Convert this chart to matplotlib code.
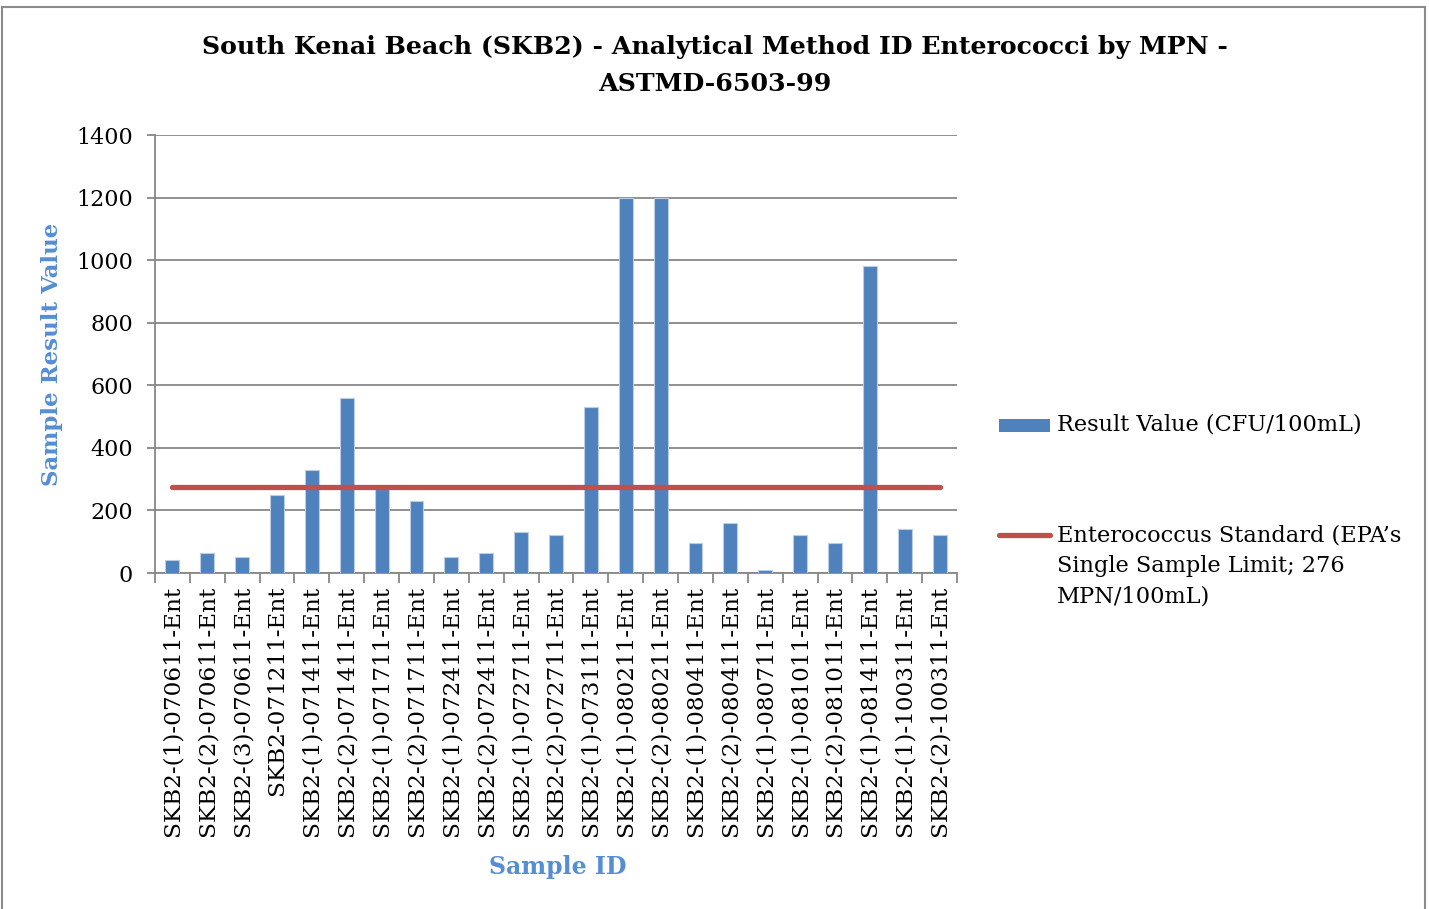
import matplotlib
matplotlib.use("Agg")
import matplotlib.pyplot as plt
from matplotlib.lines import Line2D
from matplotlib.patches import Rectangle

plt.rcParams['font.family'] = ['DejaVu Serif']

sample_ids = [
    "SKB2-(1)-070611-Ent", "SKB2-(2)-070611-Ent", "SKB2-(3)-070611-Ent",
    "SKB2-071211-Ent", "SKB2-(1)-071411-Ent", "SKB2-(2)-071411-Ent",
    "SKB2-(1)-071711-Ent", "SKB2-(2)-071711-Ent", "SKB2-(1)-072411-Ent",
    "SKB2-(2)-072411-Ent", "SKB2-(1)-072711-Ent", "SKB2-(2)-072711-Ent",
    "SKB2-(1)-073111-Ent", "SKB2-(1)-080211-Ent", "SKB2-(2)-080211-Ent",
    "SKB2-(1)-080411-Ent", "SKB2-(2)-080411-Ent", "SKB2-(1)-080711-Ent",
    "SKB2-(1)-081011-Ent", "SKB2-(2)-081011-Ent", "SKB2-(1)-081411-Ent",
    "SKB2-(1)-100311-Ent", "SKB2-(2)-100311-Ent",
]
result_values = [41, 63, 52, 249, 330, 560, 270, 230, 52, 63, 130, 120,
                 530, 1200, 1200, 96, 160, 10, 120, 96, 980, 140, 120]
standard = 276

BLUE = "#4F81BD"
RED = "#C0504D"
GRID = "#878787"
LABEL_BLUE = "#558ED5"

W, H = 1429, 909
fig = plt.figure(figsize=(W / 100, H / 100), dpi=100)

def fx(px):
    return px / W

def fy(py):
    return 1 - py / H

ax = fig.add_axes([fx(155), fy(573), fx(957) - fx(155), fy(135) - fy(573)])

x = list(range(len(sample_ids)))
ax.bar(x, result_values, width=0.4, color=BLUE, edgecolor="#B9CDE5",
       linewidth=0.8, zorder=3)
ax.plot([x[0], x[-1]], [standard, standard], color=RED, linewidth=3.8,
        solid_capstyle="round", zorder=4)

ax.set_xlim(-0.5, len(sample_ids) - 0.5)
ax.set_ylim(0, 1400)
ax.set_yticks(range(0, 1401, 200))
ax.yaxis.grid(True, color=GRID, linewidth=1.3, zorder=0)
ax.set_axisbelow(True)

ax.set_xticks(x)
ax.set_xticklabels(sample_ids, rotation=90, fontsize=16.7)
ax.tick_params(axis="x", length=0, pad=9)
ax.set_xticks([i - 0.5 for i in range(len(sample_ids) + 1)], minor=True)
ax.tick_params(axis="x", which="minor", length=7, color=GRID, width=1.3)
ax.tick_params(axis="y", length=6, color=GRID, width=1.3, labelsize=16, pad=10)

for s in ["top", "right"]:
    ax.spines[s].set_visible(False)
for s in ["left", "bottom"]:
    ax.spines[s].set_color(GRID)
    ax.spines[s].set_linewidth(1.3)

# title and axis labels
fig.text(0.5, fy(47), "South Kenai Beach (SKB2) - Analytical Method ID Enterococci by MPN -",
         ha="center", va="center", fontsize=18.2, fontweight="bold")
fig.text(0.5, fy(84), "ASTMD-6503-99", ha="center", va="center",
         fontsize=18.2, fontweight="bold")
fig.text(fx(52), fy(354), "Sample Result Value", rotation=90, ha="center",
         va="center", fontsize=16.5, fontweight="bold", color=LABEL_BLUE)
fig.text(fx(558), fy(867), "Sample ID", ha="center", va="center",
         fontsize=17, fontweight="bold", color=LABEL_BLUE)

# legend drawn by hand to match layout
fig.add_artist(Rectangle((fx(999), fy(432)), fx(1050) - fx(999), fy(419) - fy(432),
                         transform=fig.transFigure, facecolor=BLUE, edgecolor="none"))
fig.text(fx(1057), fy(425), "Result Value (CFU/100mL)", ha="left", va="center",
         fontsize=16.2)
fig.add_artist(Line2D([fx(999), fx(1050)], [fy(535), fy(535)], transform=fig.transFigure,
                      color=RED, linewidth=3.8, solid_capstyle="round"))
fig.text(fx(1057), fy(566), "Enterococcus Standard (EPA\u2019s\nSingle Sample Limit; 276\nMPN/100mL)",
         ha="left", va="center", fontsize=16.2, linespacing=1.5)

# outer chart border
fig.add_artist(Rectangle((fx(2), fy(915)), fx(1425) - fx(2), fy(7) - fy(915),
                         transform=fig.transFigure, facecolor="none",
                         edgecolor="#8C8C8C", linewidth=1.5))

fig.savefig("out.png", dpi=100)
